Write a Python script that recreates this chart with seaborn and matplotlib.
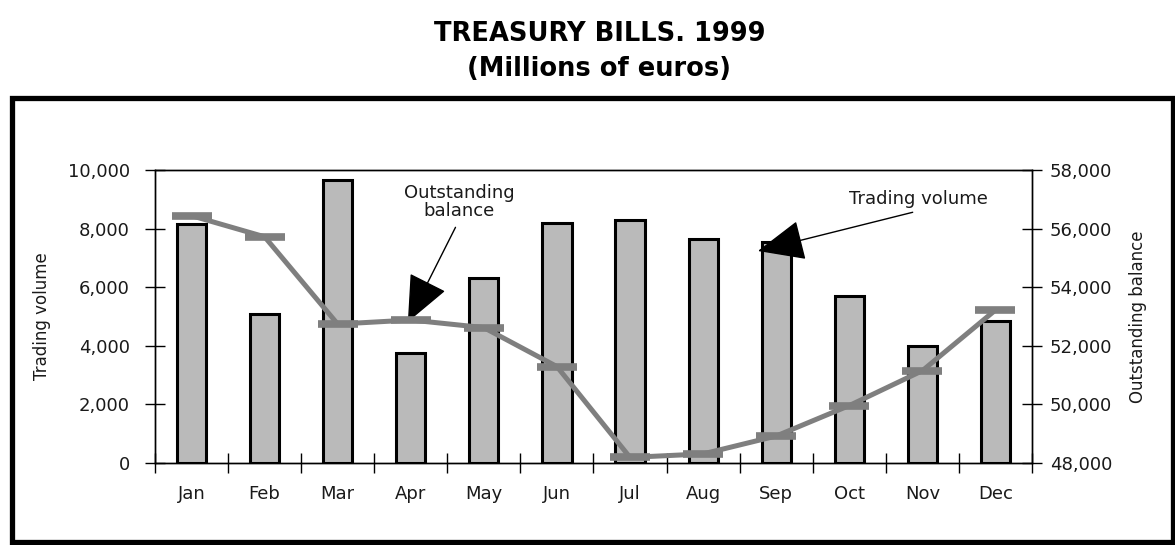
import numpy as np
import pandas as pd
import matplotlib
matplotlib.use("Agg")
import matplotlib.pyplot as plt
from matplotlib.patches import Rectangle
from matplotlib.ticker import FuncFormatter, FixedLocator
import seaborn as sns

# Monthly treasury bill figures, 1999 (millions of euros)
months = ["Jan", "Feb", "Mar", "Apr", "May", "Jun",
          "Jul", "Aug", "Sep", "Oct", "Nov", "Dec"]
trading_volume = [8150, 5100, 9650, 3750, 6300, 8180,
                  8300, 7650, 7550, 5700, 4000, 4850]
outstanding_balance = [56440, 55720, 52740, 52880, 52620, 51290,
                       48190, 48310, 48920, 49960, 51150, 53220]

left_ticks = [0, 2000, 4000, 6000, 8000, 10000]
right_ticks = [48000, 50000, 52000, 54000, 56000, 58000]

df = pd.DataFrame({"month": months,
                   "pos": np.arange(len(months)),
                   "volume": trading_volume,
                   "balance": outstanding_balance})

sns.set_theme(style="white")
plt.rcParams["font.family"] = ["DejaVu Sans"]

fig = plt.figure(figsize=(11.75, 5.45), dpi=100)
ax = fig.add_axes([0.1319, 0.1505, 0.7464, 0.5376])

BAR_GREY = "#bababa"
LINE_GREY = "#7f7f7f"
TEXT = "#1a1a1a"

sns.barplot(data=df, x="month", y="volume", ax=ax, color=BAR_GREY,
            width=0.4, edgecolor="black", linewidth=2.2, saturation=1)
ax.set_xlim(-0.5, 11.5)
ax.set_ylim(0, 10000)
ax.set_yticks(left_ticks)
ax.yaxis.set_major_formatter(FuncFormatter(lambda v, p: f"{int(v):,}"))
ax.set_xlabel("")
ax.set_ylabel("Trading volume", fontsize=12, labelpad=12, color=TEXT)

# month labels at centres, tick marks at category boundaries
ax.xaxis.set_minor_locator(FixedLocator(np.arange(-0.5, 12, 1.0)))
ax.tick_params(axis="x", which="major", length=0, pad=16, labelsize=13,
               colors=TEXT)
ax.tick_params(axis="x", which="minor", direction="inout", length=14,
               width=1, color="black", bottom=True)
ax.tick_params(axis="y", which="major", direction="inout", length=14,
               width=1, color="black", pad=11, labelsize=13, left=True,
               labelcolor=TEXT)

ax2 = ax.twinx()
sns.lineplot(data=df, x="pos", y="balance", ax=ax2, color=LINE_GREY,
             linewidth=3.6, marker="_", markersize=29, markeredgewidth=5.5,
             markeredgecolor=LINE_GREY)
ax2.set_ylim(48000, 58000)
ax2.set_yticks(right_ticks)
ax2.yaxis.set_major_formatter(FuncFormatter(lambda v, p: f"{int(v):,}"))
ax2.set_xlim(-0.5, 11.5)
ax2.set_xlabel("")
ax2.set_ylabel("Outstanding balance", fontsize=12, labelpad=12,
               color=TEXT)
ax2.tick_params(axis="y", which="major", direction="inout", length=14,
                width=1, color="black", pad=6, labelsize=13, right=True,
                labelcolor=TEXT)

for a in (ax, ax2):
    for side in ("left", "right", "top", "bottom"):
        a.spines[side].set_visible(True)
        a.spines[side].set_color("black")
        a.spines[side].set_linewidth(1.0)
    a.grid(False)

arrow_kw = dict(arrowstyle="-|>,head_length=1.5,head_width=0.65",
                mutation_scale=20, color="black", lw=1.0,
                shrinkA=3, shrinkB=0)

ax.annotate("Outstanding\nbalance", xy=(2.96, 4812), xytext=(3.66, 8908),
            ha="center", va="center", fontsize=13, color=TEXT,
            linespacing=1.05,
            arrowprops=dict(**arrow_kw, relpos=(0.5, 0.0)), zorder=6)
ax.annotate("Trading volume", xy=(7.75, 7235), xytext=(9.95, 9010),
            ha="center", va="center", fontsize=13, color=TEXT,
            arrowprops=dict(**arrow_kw, relpos=(0.58, 0.0)), zorder=6)

fig.text(0.51, 0.906, "TREASURY BILLS. 1999\n(Millions of euros)",
         ha="center", va="center", fontsize=18.5, fontweight="bold",
         linespacing=1.45, color="black")

# heavy outer frame around the chart panel
fig.patches.append(Rectangle((0.0106, 0.0055), 0.9877, 0.8156,
                             transform=fig.transFigure, fill=False,
                             edgecolor="black", linewidth=3.8,
                             clip_on=False))

fig.savefig("out.png", dpi=100)
